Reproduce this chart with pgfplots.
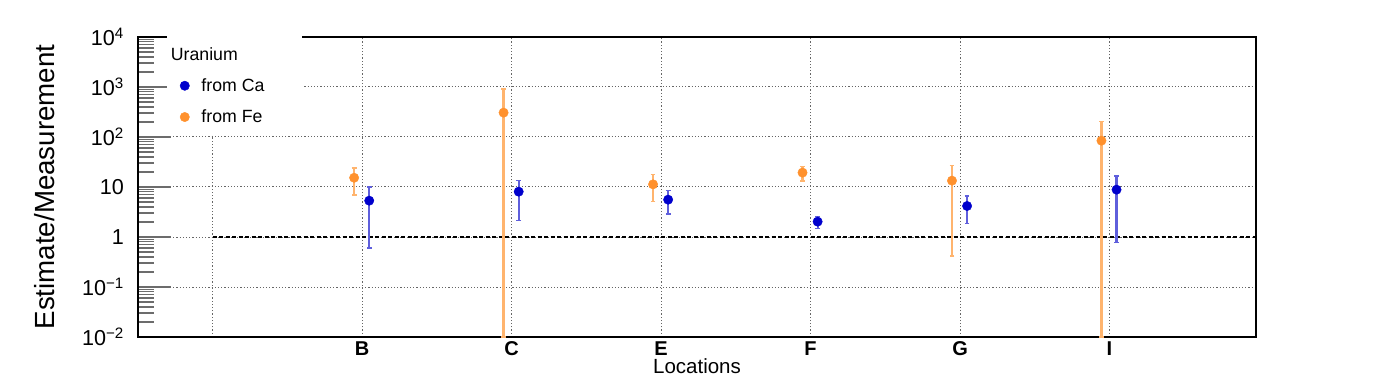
\documentclass[border=0pt]{standalone}
\usepackage{fontspec}
\setmainfont{Liberation Sans}
\usepackage{pgfplots}
\pgfplotsset{compat=1.18}
\usepackage{pgfplotstable}

\definecolor{cadot}{RGB}{0,0,204}
\definecolor{cabar}{RGB}{95,95,220}
\definecolor{fedot}{RGB}{255,145,45}
\definecolor{febar}{RGB}{255,180,110}

% x = location index (B=1 ... I=6), small offset per series
\pgfplotstableread{
x     y     ep    em
1.047 5.33  4.77  4.73
2.047 8.07  5.33  5.95
3.047 5.58  2.87  2.70
4.047 2.03  0.52  0.54
5.047 4.17  2.43  2.32
6.047 8.85  7.75  8.08
}\fromca

\pgfplotstableread{
x     y     ep     em
0.946 15.3  9.0    8.3
1.946 307   605    306.99
2.946 11.3  6.6    6.2
3.946 19.4  6.1    6.2
4.946 13.4  13.3   12.98
5.946 84.5  118.5  84.49
}\fromfe

\begin{document}
\begin{tikzpicture}
\path[use as bounding box] (-138bp,-38bp) rectangle (1260bp,337bp);
\begin{axis}[
    at={(0,0)}, anchor=south west,
    scale only axis, width=1118bp, height=300bp,
    xmin=-0.5, xmax=6.98,
    ymode=log, ymin=0.01, ymax=10000,
    xtick={0,...,6}, xticklabels={{},B,C,E,F,G,I},
    ytick={0.01,0.1,1,10,100,1000,10000},
    yticklabels={10\textsuperscript{−2},10\textsuperscript{−1},1,10,10\textsuperscript{2},10\textsuperscript{3},10\textsuperscript{4}},
    minor ytick={0.02,0.03,0.04,0.05,0.06,0.07,0.08,0.09,
                 0.2,0.3,0.4,0.5,0.6,0.7,0.8,0.9,
                 2,3,4,5,6,7,8,9,
                 20,30,40,50,60,70,80,90,
                 200,300,400,500,600,700,800,900,
                 2000,3000,4000,5000,6000,7000,8000,9000},
    xtick pos=bottom, ytick pos=left,
    xtick style={draw=none},
    major tick length=33bp, minor tick length=16bp,
    ytick style={gray!85!black, line width=1.3bp},
    minor y tick style={gray!85!black, line width=1.3bp},
    grid=major,
    major grid style={gray!80!black, line width=1bp, dash pattern=on 1.2bp off 2bp},
    axis line style={line width=1.6bp, black},
    xticklabel style={font=\fontsize{20bp}{22bp}\selectfont\bfseries, anchor=north, inner sep=0pt, yshift=-4.5bp},
    yticklabel style={font=\fontsize{21.6bp}{24bp}\selectfont, anchor=east, inner sep=0pt, xshift=-14bp},
    xlabel={Locations},
    xlabel style={font=\fontsize{20.5bp}{23bp}\selectfont, at={(axis description cs:0.5,-0.097)}, anchor=center},
    ylabel={Estimate/Measurement},
    ylabel style={font=\fontsize{27.7bp}{30bp}\selectfont, at={(axis description cs:-0.0832,0.5)}, anchor=center},
    legend style={at={(axis description cs:0.026,1.003)}, anchor=north west,
        draw=none, fill=white, inner xsep=9bp, inner ysep=9bp,
        row sep=13bp, column sep=10bp,
        font=\fontsize{17.7bp}{21bp}\selectfont},
    legend cell align=left,
]
\addlegendimage{empty legend}
\addlegendentry{\hspace*{-30.5bp}Uranium}

\addplot[black, line width=1.5bp, dash pattern=on 4bp off 2.5bp, forget plot]
    coordinates {(0,1) (6.98,1)};

\addplot[only marks, mark=*, mark size=4.7bp, color=cadot,
    error bars/.cd, y dir=both, y explicit,
    error bar style={line width=2.2bp, cabar},
    error mark options={rotate=90, mark size=2.4bp, line width=1.6bp, cabar}]
    table[x=x, y=y, y error plus=ep, y error minus=em] {\fromca};
\addlegendentry{\makebox[90bp][l]{from Ca}}

\addplot[only marks, mark=*, mark size=4.7bp, color=fedot,
    error bars/.cd, y dir=both, y explicit,
    error bar style={line width=2.2bp, febar},
    error mark options={rotate=90, mark size=2.4bp, line width=1.6bp, febar}]
    table[x=x, y=y, y error plus=ep, y error minus=em] {\fromfe};
\addlegendentry{\makebox[90bp][l]{from Fe}}
\end{axis}
\end{tikzpicture}
\end{document}
